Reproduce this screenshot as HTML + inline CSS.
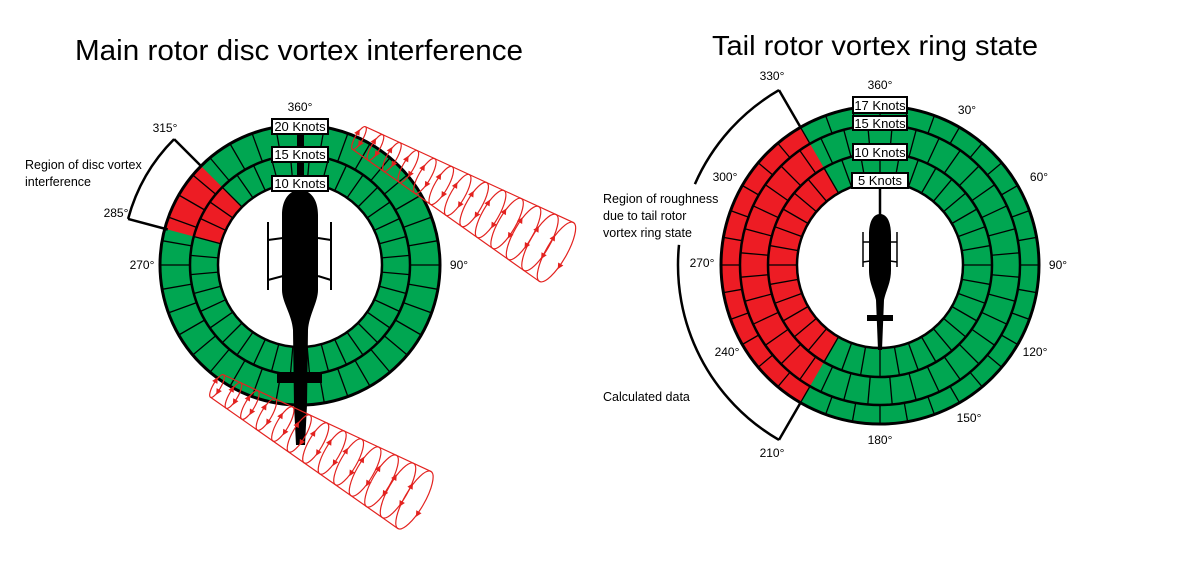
<!DOCTYPE html>
<html><head><meta charset="utf-8"><style>
html,body{margin:0;padding:0;background:#fff;}
svg{display:block;}
text{font-family:"Liberation Sans",sans-serif;fill:#000;}
</style></head><body>
<svg width="1200" height="573" viewBox="0 0 1200 573" xmlns="http://www.w3.org/2000/svg">
<rect width="1200" height="573" fill="#fff"/>

<!-- Titles -->
<text x="75" y="60" font-size="29" textLength="448" lengthAdjust="spacingAndGlyphs">Main rotor disc vortex interference</text>
<text x="712" y="55" font-size="28" textLength="326" lengthAdjust="spacingAndGlyphs">Tail rotor vortex ring state</text>

<!-- ===== LEFT DIAGRAM ===== -->
<circle cx="300" cy="265" r="111" fill="none" stroke="#00a651" stroke-width="58"/>
<path d="M164.8,228.8 A140,140 0 0 1 201,166 L242,207 A82,82 0 0 0 220.8,243.8 Z" fill="#ed1c24"/>
<g transform="translate(300,265)" stroke="#000" stroke-width="1.3">
<line y1="-110" y2="-140" transform="rotate(0)"/><line y1="-110" y2="-140" transform="rotate(10)"/><line y1="-110" y2="-140" transform="rotate(20)"/><line y1="-110" y2="-140" transform="rotate(30)"/><line y1="-110" y2="-140" transform="rotate(40)"/><line y1="-110" y2="-140" transform="rotate(50)"/><line y1="-110" y2="-140" transform="rotate(60)"/><line y1="-110" y2="-140" transform="rotate(70)"/><line y1="-110" y2="-140" transform="rotate(80)"/><line y1="-110" y2="-140" transform="rotate(90)"/><line y1="-110" y2="-140" transform="rotate(100)"/><line y1="-110" y2="-140" transform="rotate(110)"/><line y1="-110" y2="-140" transform="rotate(120)"/><line y1="-110" y2="-140" transform="rotate(130)"/><line y1="-110" y2="-140" transform="rotate(140)"/><line y1="-110" y2="-140" transform="rotate(150)"/><line y1="-110" y2="-140" transform="rotate(160)"/><line y1="-110" y2="-140" transform="rotate(170)"/><line y1="-110" y2="-140" transform="rotate(180)"/><line y1="-110" y2="-140" transform="rotate(190)"/><line y1="-110" y2="-140" transform="rotate(200)"/><line y1="-110" y2="-140" transform="rotate(210)"/><line y1="-110" y2="-140" transform="rotate(220)"/><line y1="-110" y2="-140" transform="rotate(230)"/><line y1="-110" y2="-140" transform="rotate(240)"/><line y1="-110" y2="-140" transform="rotate(250)"/><line y1="-110" y2="-140" transform="rotate(260)"/><line y1="-110" y2="-140" transform="rotate(270)"/><line y1="-110" y2="-140" transform="rotate(280)"/><line y1="-110" y2="-140" transform="rotate(290)"/><line y1="-110" y2="-140" transform="rotate(300)"/><line y1="-110" y2="-140" transform="rotate(310)"/><line y1="-110" y2="-140" transform="rotate(320)"/><line y1="-110" y2="-140" transform="rotate(330)"/><line y1="-110" y2="-140" transform="rotate(340)"/><line y1="-110" y2="-140" transform="rotate(350)"/>
<line y1="-82" y2="-110" transform="rotate(5)"/><line y1="-82" y2="-110" transform="rotate(15)"/><line y1="-82" y2="-110" transform="rotate(25)"/><line y1="-82" y2="-110" transform="rotate(35)"/><line y1="-82" y2="-110" transform="rotate(45)"/><line y1="-82" y2="-110" transform="rotate(55)"/><line y1="-82" y2="-110" transform="rotate(65)"/><line y1="-82" y2="-110" transform="rotate(75)"/><line y1="-82" y2="-110" transform="rotate(85)"/><line y1="-82" y2="-110" transform="rotate(95)"/><line y1="-82" y2="-110" transform="rotate(105)"/><line y1="-82" y2="-110" transform="rotate(115)"/><line y1="-82" y2="-110" transform="rotate(125)"/><line y1="-82" y2="-110" transform="rotate(135)"/><line y1="-82" y2="-110" transform="rotate(145)"/><line y1="-82" y2="-110" transform="rotate(155)"/><line y1="-82" y2="-110" transform="rotate(165)"/><line y1="-82" y2="-110" transform="rotate(175)"/><line y1="-82" y2="-110" transform="rotate(185)"/><line y1="-82" y2="-110" transform="rotate(195)"/><line y1="-82" y2="-110" transform="rotate(205)"/><line y1="-82" y2="-110" transform="rotate(215)"/><line y1="-82" y2="-110" transform="rotate(225)"/><line y1="-82" y2="-110" transform="rotate(235)"/><line y1="-82" y2="-110" transform="rotate(245)"/><line y1="-82" y2="-110" transform="rotate(255)"/><line y1="-82" y2="-110" transform="rotate(265)"/><line y1="-82" y2="-110" transform="rotate(275)"/><line y1="-82" y2="-110" transform="rotate(285)"/><line y1="-82" y2="-110" transform="rotate(295)"/><line y1="-82" y2="-110" transform="rotate(305)"/><line y1="-82" y2="-110" transform="rotate(315)"/><line y1="-82" y2="-110" transform="rotate(325)"/><line y1="-82" y2="-110" transform="rotate(335)"/><line y1="-82" y2="-110" transform="rotate(345)"/><line y1="-82" y2="-110" transform="rotate(355)"/>
</g>
<g fill="none" stroke="#000">
<circle cx="300" cy="265" r="82" stroke-width="2.5"/>
<circle cx="300" cy="265" r="110" stroke-width="2.5"/>
<circle cx="300" cy="265" r="140" stroke-width="3"/>
</g>

<!-- left helicopter -->
<rect x="297" y="130" width="7" height="62" fill="#000"/>
<path d="M300,190 C311,190 318,200 318,215 L318,290 C318,302 309,315 308,330 L307,405 L305,445 L296,445 L294,405 L293,330 C292,315 282,302 282,290 L282,215 C282,200 289,190 300,190 Z" fill="#000"/>
<rect x="277" y="372" width="45" height="11" fill="#000"/>
<g stroke="#000" stroke-width="2" fill="none">
<line x1="268" y1="222" x2="268" y2="290"/>
<line x1="331" y1="222" x2="331" y2="290"/>
<line x1="268" y1="240" x2="283" y2="238"/>
<line x1="318" y1="238" x2="331" y2="240"/>
<line x1="268" y1="280" x2="283" y2="276"/>
<line x1="318" y1="276" x2="331" y2="280"/>
</g>

<!-- left boxes -->
<g stroke="#000" stroke-width="2" fill="#fff">
<rect x="272" y="119" width="56" height="15"/>
<rect x="272" y="147" width="56" height="15"/>
<rect x="272" y="176" width="56" height="15"/>
</g>
<g font-size="13" text-anchor="middle">
<text x="300" y="131">20 Knots</text>
<text x="300" y="159">15 Knots</text>
<text x="300" y="188">10 Knots</text>
</g>

<!-- left labels -->
<g font-size="12" text-anchor="middle">
<text x="300" y="111">360°</text>
<text x="165" y="132">315°</text>
<text x="116" y="217">285°</text>
<text x="142" y="269">270°</text>
<text x="459" y="269">90°</text>
</g>
<text x="25" y="169" font-size="12.5">Region of disc vortex</text>
<text x="25" y="186" font-size="12.5">interference</text>
<g stroke="#000" stroke-width="2.5" fill="none">
<path d="M128.1,218.9 A178,178 0 0 1 174.1,139.1"/>
<line x1="174.1" y1="139.1" x2="201" y2="166"/>
<line x1="128.1" y1="218.9" x2="167.7" y2="229.5"/>
</g>

<!-- ===== RIGHT DIAGRAM ===== -->
<circle cx="880" cy="265" r="121" fill="none" stroke="#00a651" stroke-width="76"/>
<path d="M800.5,402.7 A159,159 0 0 1 800.5,127.3 L838.5,193.1 A83,83 0 0 0 838.5,336.9 Z" fill="#ed1c24"/>
<g transform="translate(880,265)" stroke="#000" stroke-width="1.3">
<line y1="-140" y2="-159" transform="rotate(0)"/><line y1="-140" y2="-159" transform="rotate(10)"/><line y1="-140" y2="-159" transform="rotate(20)"/><line y1="-140" y2="-159" transform="rotate(30)"/><line y1="-140" y2="-159" transform="rotate(40)"/><line y1="-140" y2="-159" transform="rotate(50)"/><line y1="-140" y2="-159" transform="rotate(60)"/><line y1="-140" y2="-159" transform="rotate(70)"/><line y1="-140" y2="-159" transform="rotate(80)"/><line y1="-140" y2="-159" transform="rotate(90)"/><line y1="-140" y2="-159" transform="rotate(100)"/><line y1="-140" y2="-159" transform="rotate(110)"/><line y1="-140" y2="-159" transform="rotate(120)"/><line y1="-140" y2="-159" transform="rotate(130)"/><line y1="-140" y2="-159" transform="rotate(140)"/><line y1="-140" y2="-159" transform="rotate(150)"/><line y1="-140" y2="-159" transform="rotate(160)"/><line y1="-140" y2="-159" transform="rotate(170)"/><line y1="-140" y2="-159" transform="rotate(180)"/><line y1="-140" y2="-159" transform="rotate(190)"/><line y1="-140" y2="-159" transform="rotate(200)"/><line y1="-140" y2="-159" transform="rotate(210)"/><line y1="-140" y2="-159" transform="rotate(220)"/><line y1="-140" y2="-159" transform="rotate(230)"/><line y1="-140" y2="-159" transform="rotate(240)"/><line y1="-140" y2="-159" transform="rotate(250)"/><line y1="-140" y2="-159" transform="rotate(260)"/><line y1="-140" y2="-159" transform="rotate(270)"/><line y1="-140" y2="-159" transform="rotate(280)"/><line y1="-140" y2="-159" transform="rotate(290)"/><line y1="-140" y2="-159" transform="rotate(300)"/><line y1="-140" y2="-159" transform="rotate(310)"/><line y1="-140" y2="-159" transform="rotate(320)"/><line y1="-140" y2="-159" transform="rotate(330)"/><line y1="-140" y2="-159" transform="rotate(340)"/><line y1="-140" y2="-159" transform="rotate(350)"/>
<line y1="-112" y2="-140" transform="rotate(5)"/><line y1="-112" y2="-140" transform="rotate(15)"/><line y1="-112" y2="-140" transform="rotate(25)"/><line y1="-112" y2="-140" transform="rotate(35)"/><line y1="-112" y2="-140" transform="rotate(45)"/><line y1="-112" y2="-140" transform="rotate(55)"/><line y1="-112" y2="-140" transform="rotate(65)"/><line y1="-112" y2="-140" transform="rotate(75)"/><line y1="-112" y2="-140" transform="rotate(85)"/><line y1="-112" y2="-140" transform="rotate(95)"/><line y1="-112" y2="-140" transform="rotate(105)"/><line y1="-112" y2="-140" transform="rotate(115)"/><line y1="-112" y2="-140" transform="rotate(125)"/><line y1="-112" y2="-140" transform="rotate(135)"/><line y1="-112" y2="-140" transform="rotate(145)"/><line y1="-112" y2="-140" transform="rotate(155)"/><line y1="-112" y2="-140" transform="rotate(165)"/><line y1="-112" y2="-140" transform="rotate(175)"/><line y1="-112" y2="-140" transform="rotate(185)"/><line y1="-112" y2="-140" transform="rotate(195)"/><line y1="-112" y2="-140" transform="rotate(205)"/><line y1="-112" y2="-140" transform="rotate(215)"/><line y1="-112" y2="-140" transform="rotate(225)"/><line y1="-112" y2="-140" transform="rotate(235)"/><line y1="-112" y2="-140" transform="rotate(245)"/><line y1="-112" y2="-140" transform="rotate(255)"/><line y1="-112" y2="-140" transform="rotate(265)"/><line y1="-112" y2="-140" transform="rotate(275)"/><line y1="-112" y2="-140" transform="rotate(285)"/><line y1="-112" y2="-140" transform="rotate(295)"/><line y1="-112" y2="-140" transform="rotate(305)"/><line y1="-112" y2="-140" transform="rotate(315)"/><line y1="-112" y2="-140" transform="rotate(325)"/><line y1="-112" y2="-140" transform="rotate(335)"/><line y1="-112" y2="-140" transform="rotate(345)"/><line y1="-112" y2="-140" transform="rotate(355)"/>
<line y1="-83" y2="-112" transform="rotate(0)"/><line y1="-83" y2="-112" transform="rotate(10)"/><line y1="-83" y2="-112" transform="rotate(20)"/><line y1="-83" y2="-112" transform="rotate(30)"/><line y1="-83" y2="-112" transform="rotate(40)"/><line y1="-83" y2="-112" transform="rotate(50)"/><line y1="-83" y2="-112" transform="rotate(60)"/><line y1="-83" y2="-112" transform="rotate(70)"/><line y1="-83" y2="-112" transform="rotate(80)"/><line y1="-83" y2="-112" transform="rotate(90)"/><line y1="-83" y2="-112" transform="rotate(100)"/><line y1="-83" y2="-112" transform="rotate(110)"/><line y1="-83" y2="-112" transform="rotate(120)"/><line y1="-83" y2="-112" transform="rotate(130)"/><line y1="-83" y2="-112" transform="rotate(140)"/><line y1="-83" y2="-112" transform="rotate(150)"/><line y1="-83" y2="-112" transform="rotate(160)"/><line y1="-83" y2="-112" transform="rotate(170)"/><line y1="-83" y2="-112" transform="rotate(180)"/><line y1="-83" y2="-112" transform="rotate(190)"/><line y1="-83" y2="-112" transform="rotate(200)"/><line y1="-83" y2="-112" transform="rotate(210)"/><line y1="-83" y2="-112" transform="rotate(220)"/><line y1="-83" y2="-112" transform="rotate(230)"/><line y1="-83" y2="-112" transform="rotate(240)"/><line y1="-83" y2="-112" transform="rotate(250)"/><line y1="-83" y2="-112" transform="rotate(260)"/><line y1="-83" y2="-112" transform="rotate(270)"/><line y1="-83" y2="-112" transform="rotate(280)"/><line y1="-83" y2="-112" transform="rotate(290)"/><line y1="-83" y2="-112" transform="rotate(300)"/><line y1="-83" y2="-112" transform="rotate(310)"/><line y1="-83" y2="-112" transform="rotate(320)"/><line y1="-83" y2="-112" transform="rotate(330)"/><line y1="-83" y2="-112" transform="rotate(340)"/><line y1="-83" y2="-112" transform="rotate(350)"/>
</g>
<g fill="none" stroke="#000">
<circle cx="880" cy="265" r="83" stroke-width="2.5"/>
<circle cx="880" cy="265" r="112" stroke-width="2.5"/>
<circle cx="880" cy="265" r="140" stroke-width="2.5"/>
<circle cx="880" cy="265" r="159" stroke-width="3"/>
</g>

<!-- right helicopter -->
<line x1="880" y1="188" x2="880" y2="216" stroke="#000" stroke-width="2.5"/>
<path d="M880,214 C887,214 891,222 891,235 L891,270 C891,283 886,290 884,300 L882,350 L878,350 L876,300 C874,290 869,283 869,270 L869,235 C869,222 873,214 880,214 Z" fill="#000"/>
<rect x="867" y="315" width="26" height="6" fill="#000"/>
<g stroke="#000" stroke-width="1.5" fill="none">
<line x1="863" y1="232" x2="863" y2="267"/>
<line x1="897" y1="232" x2="897" y2="267"/>
<line x1="863" y1="242" x2="870" y2="242"/>
<line x1="890" y1="242" x2="897" y2="242"/>
<line x1="863" y1="262" x2="870" y2="261"/>
<line x1="890" y1="261" x2="897" y2="262"/>
</g>

<!-- right boxes -->
<g stroke="#000" stroke-width="2" fill="#fff">
<rect x="853" y="97" width="54" height="16"/>
<rect x="853" y="116" width="54" height="14"/>
<rect x="853" y="144" width="54" height="16"/>
<rect x="852" y="173" width="56" height="15"/>
</g>
<g font-size="13" text-anchor="middle">
<text x="880" y="110">17 Knots</text>
<text x="880" y="128">15 Knots</text>
<text x="880" y="157">10 Knots</text>
<text x="880" y="185">5 Knots</text>
</g>

<!-- right labels -->
<g font-size="12" text-anchor="middle">
<text x="772" y="80">330°</text>
<text x="880" y="89">360°</text>
<text x="967" y="114">30°</text>
<text x="1039" y="181">60°</text>
<text x="1058" y="269">90°</text>
<text x="1035" y="356">120°</text>
<text x="969" y="422">150°</text>
<text x="880" y="444">180°</text>
<text x="772" y="457">210°</text>
<text x="727" y="356">240°</text>
<text x="702" y="267">270°</text>
<text x="725" y="181">300°</text>
</g>
<g font-size="12.5">
<text x="603" y="203">Region of roughness</text>
<text x="603" y="220">due to tail rotor</text>
<text x="603" y="237">vortex ring state</text>
<text x="603" y="401">Calculated data</text>
</g>
<g stroke="#000" stroke-width="2.5" fill="none">
<path d="M694.9,184.1 A202,202 0 0 1 779,90.1"/>
<path d="M779,439.9 A202,202 0 0 1 679,244.9"/>
<line x1="779" y1="90.1" x2="800.5" y2="127.3"/>
<line x1="779" y1="439.9" x2="800.5" y2="402.7"/>
</g>

<!-- ===== VORTEX TUBES ===== -->
<g transform="translate(359,138) rotate(30)" stroke="#e3221f" stroke-width="1.2" fill="none">
<path d="M0,-13 L228,-34 M0,13 L228,34"/>
<ellipse cx="0" cy="0" rx="3.9" ry="13"/><ellipse cx="19" cy="0" rx="4.4" ry="14.75"/><ellipse cx="38" cy="0" rx="5" ry="16.5"/><ellipse cx="57" cy="0" rx="5.5" ry="18.25"/><ellipse cx="76" cy="0" rx="6" ry="20"/><ellipse cx="95" cy="0" rx="6.5" ry="21.75"/><ellipse cx="114" cy="0" rx="7" ry="23.5"/><ellipse cx="133" cy="0" rx="7.6" ry="25.25"/><ellipse cx="152" cy="0" rx="8.1" ry="27"/><ellipse cx="171" cy="0" rx="8.6" ry="28.75"/><ellipse cx="190" cy="0" rx="9.2" ry="30.5"/><ellipse cx="209" cy="0" rx="9.7" ry="32.25"/><ellipse cx="228" cy="0" rx="10.2" ry="34"/>
<g fill="#e3221f" stroke="none">
<path d="M-3.7,-8 l-3,6 l6,0 z"/><path d="M3.7,8 l-3,-6 l6,0 z"/>
<path d="M14.8,-8.5 l-3,6 l6,0 z"/><path d="M23.2,8.5 l-3,-6 l6,0 z"/>
<path d="M33.25,-9 l-3,6 l6,0 z"/><path d="M42.75,9 l-3,-6 l6,0 z"/>
<path d="M51.8,-9.5 l-3,6 l6,0 z"/><path d="M62.2,9.5 l-3,-6 l6,0 z"/>
<path d="M70.3,-10 l-3,6 l6,0 z"/><path d="M81.7,10 l-3,-6 l6,0 z"/>
<path d="M88.8,-10.5 l-3,6 l6,0 z"/><path d="M101.2,10.5 l-3,-6 l6,0 z"/>
<path d="M107.35,-11 l-3,6 l6,0 z"/><path d="M120.65,11 l-3,-6 l6,0 z"/>
<path d="M125.8,-11.6 l-3,6 l6,0 z"/><path d="M140.2,11.6 l-3,-6 l6,0 z"/>
<path d="M144.3,-12.1 l-3,6 l6,0 z"/><path d="M159.7,12.1 l-3,-6 l6,0 z"/>
<path d="M162.8,-12.6 l-3,6 l6,0 z"/><path d="M179.2,12.6 l-3,-6 l6,0 z"/>
<path d="M181.3,-13.1 l-3,6 l6,0 z"/><path d="M198.7,13.1 l-3,-6 l6,0 z"/>
<path d="M199.8,-13.7 l-3,6 l6,0 z"/><path d="M218.2,13.7 l-3,-6 l6,0 z"/>
<path d="M218.3,-14.2 l-3,6 l6,0 z"/><path d="M237.7,14.2 l-3,-6 l6,0 z"/>
</g>
</g>

<g transform="translate(217,386) rotate(30)" stroke="#e3221f" stroke-width="1.2" fill="none">
<path d="M0,-13 L228,-33 M0,13 L228,33"/>
<ellipse cx="0" cy="0" rx="3.9" ry="13"/><ellipse cx="19" cy="0" rx="4.4" ry="14.7"/><ellipse cx="38" cy="0" rx="5" ry="16.3"/><ellipse cx="57" cy="0" rx="5.5" ry="18"/><ellipse cx="76" cy="0" rx="6" ry="19.7"/><ellipse cx="95" cy="0" rx="6.5" ry="21.3"/><ellipse cx="114" cy="0" rx="7" ry="23"/><ellipse cx="133" cy="0" rx="7.5" ry="24.7"/><ellipse cx="152" cy="0" rx="8" ry="26.3"/><ellipse cx="171" cy="0" rx="8.5" ry="28"/><ellipse cx="190" cy="0" rx="9" ry="29.7"/><ellipse cx="209" cy="0" rx="9.5" ry="31.3"/><ellipse cx="228" cy="0" rx="10" ry="33"/>
<g fill="#e3221f" stroke="none">
<path d="M-3.7,-8 l-3,6 l6,0 z"/><path d="M3.7,8 l-3,-6 l6,0 z"/>
<path d="M14.8,-8.5 l-3,6 l6,0 z"/><path d="M23.2,8.5 l-3,-6 l6,0 z"/>
<path d="M33.25,-9 l-3,6 l6,0 z"/><path d="M42.75,9 l-3,-6 l6,0 z"/>
<path d="M51.8,-9.4 l-3,6 l6,0 z"/><path d="M62.2,9.4 l-3,-6 l6,0 z"/>
<path d="M70.3,-9.9 l-3,6 l6,0 z"/><path d="M81.7,9.9 l-3,-6 l6,0 z"/>
<path d="M88.8,-10.4 l-3,6 l6,0 z"/><path d="M101.2,10.4 l-3,-6 l6,0 z"/>
<path d="M107.35,-10.9 l-3,6 l6,0 z"/><path d="M120.65,10.9 l-3,-6 l6,0 z"/>
<path d="M125.8,-11.4 l-3,6 l6,0 z"/><path d="M140.2,11.4 l-3,-6 l6,0 z"/>
<path d="M144.3,-11.9 l-3,6 l6,0 z"/><path d="M159.7,11.9 l-3,-6 l6,0 z"/>
<path d="M162.8,-12.4 l-3,6 l6,0 z"/><path d="M179.2,12.4 l-3,-6 l6,0 z"/>
<path d="M181.3,-12.9 l-3,6 l6,0 z"/><path d="M198.7,12.9 l-3,-6 l6,0 z"/>
<path d="M199.8,-13.4 l-3,6 l6,0 z"/><path d="M218.2,13.4 l-3,-6 l6,0 z"/>
<path d="M218.3,-13.9 l-3,6 l6,0 z"/><path d="M237.7,13.9 l-3,-6 l6,0 z"/>
</g>
</g>

</svg>
</body></html>
